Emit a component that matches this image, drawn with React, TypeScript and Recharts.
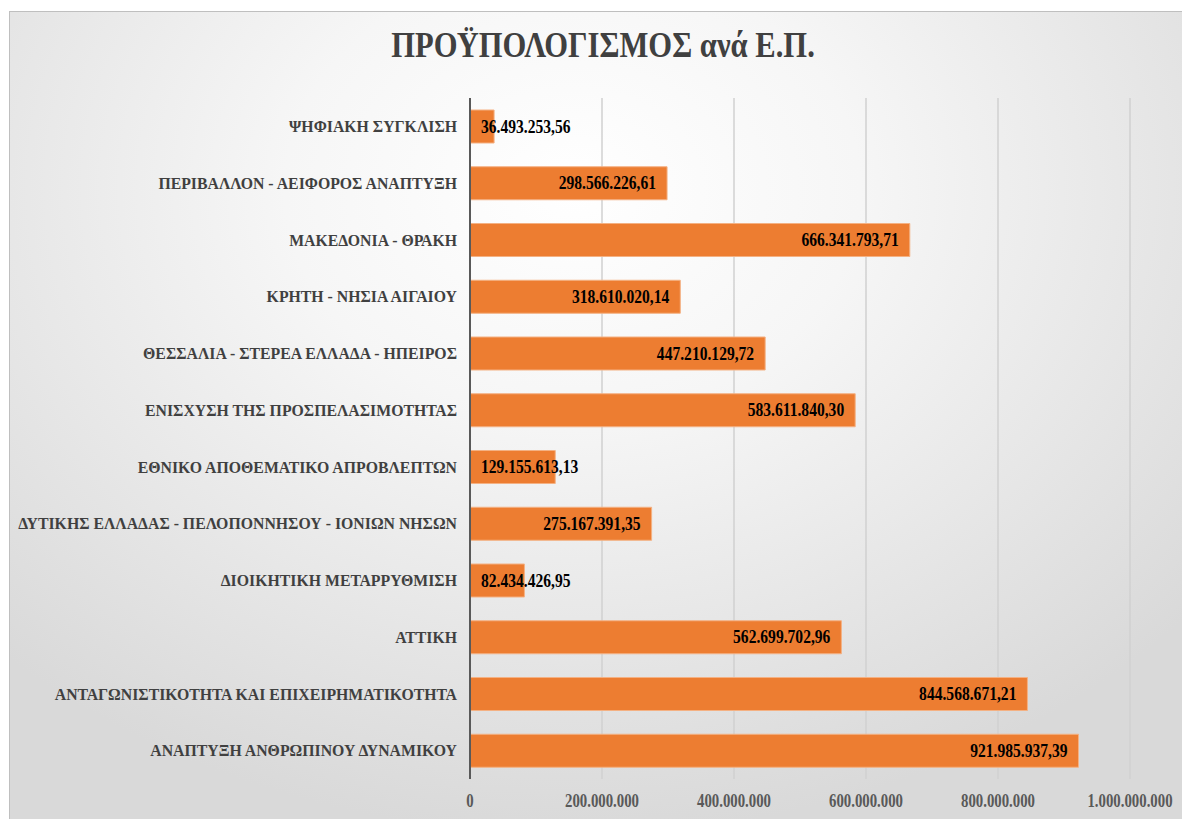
import { BarChart, Bar, XAxis, YAxis, CartesianGrid, LabelList } from 'recharts';

const programmes = [
  'ΨΗΦΙΑΚΗ ΣΥΓΚΛΙΣΗ',
  'ΠΕΡΙΒΑΛΛΟΝ - ΑΕΙΦΟΡΟΣ ΑΝΑΠΤΥΞΗ',
  'ΜΑΚΕΔΟΝΙΑ - ΘΡΑΚΗ',
  'ΚΡΗΤΗ - ΝΗΣΙΑ ΑΙΓΑΙΟΥ',
  'ΘΕΣΣΑΛΙΑ - ΣΤΕΡΕΑ ΕΛΛΑΔΑ - ΗΠΕΙΡΟΣ',
  'ΕΝΙΣΧΥΣΗ ΤΗΣ ΠΡΟΣΠΕΛΑΣΙΜΟΤΗΤΑΣ',
  'ΕΘΝΙΚΟ ΑΠΟΘΕΜΑΤΙΚΟ ΑΠΡΟΒΛΕΠΤΩΝ',
  'ΔΥΤΙΚΗΣ ΕΛΛΑΔΑΣ - ΠΕΛΟΠΟΝΝΗΣΟΥ - ΙΟΝΙΩΝ ΝΗΣΩΝ',
  'ΔΙΟΙΚΗΤΙΚΗ ΜΕΤΑΡΡΥΘΜΙΣΗ',
  'ΑΤΤΙΚΗ',
  'ΑΝΤΑΓΩΝΙΣΤΙΚΟΤΗΤΑ ΚΑΙ ΕΠΙΧΕΙΡΗΜΑΤΙΚΟΤΗΤΑ',
  'ΑΝΑΠΤΥΞΗ ΑΝΘΡΩΠΙΝΟΥ ΔΥΝΑΜΙΚΟΥ',
];

const budget = [
  36493253.56, 298566226.61, 666341793.71, 318610020.14, 447210129.72, 583611840.3,
  129155613.13, 275167391.35, 82434426.95, 562699702.96, 844568671.21, 921985937.39,
];

const xTicks = [0, 200000000, 400000000, 600000000, 800000000, 1000000000];

const data = programmes.map((name, i) => ({ name, value: budget[i] }));

const FONT = '"Liberation Serif", "Times New Roman", serif';

// greek style number: 1.234.567,89
const fmt = (v: number, decimals: number) => {
  const [int, dec] = v.toFixed(decimals).split('.');
  const grouped = int.replace(/\B(?=(\d{3})+(?!\d))/g, '.');
  return dec ? `${grouped},${dec}` : grouped;
};

const LABEL_SIZE = 19;
const LABEL_SCALE = 0.82;

const textWidth = (s: string) => {
  let em = 0;
  for (const c of s) em += c === '.' || c === ',' ? 0.25 : 0.5;
  return em * LABEL_SIZE * LABEL_SCALE;
};

const BarValue = (props: any) => {
  const { x, y, width, height, value } = props;
  const txt = fmt(value, 2);
  const w = textWidth(txt);
  const fits = width > w + 22;
  const tx = fits ? x + width - 11 : x + 11;
  return (
    <text
      transform={`translate(${tx},${y + height / 2}) scale(${LABEL_SCALE},1)`}
      textAnchor={fits ? 'end' : 'start'}
      dominantBaseline="central"
      fontFamily={FONT}
      fontWeight="bold"
      fontSize={LABEL_SIZE}
      fill="#000"
    >
      {txt}
    </text>
  );
};

const CategoryTick = ({ x, y, payload }: any) => (
  <text
    transform={`translate(${x},${y}) scale(0.93,1)`}
    textAnchor="end"
    dominantBaseline="central"
    fontFamily={FONT}
    fontWeight="bold"
    fontSize={17}
    fill="#404040"
  >
    {payload.value}
  </text>
);

const ValueTick = ({ x, y, payload }: any) => (
  <text
    transform={`translate(${x},${y + 22}) scale(0.78,1)`}
    textAnchor="middle"
    dominantBaseline="central"
    fontFamily={FONT}
    fontWeight="bold"
    fontSize={19}
    fill="#595959"
  >
    {fmt(payload.value, 0)}
  </text>
);

export default function App() {
  return (
    <div
      style={{
        position: 'absolute',
        left: 9,
        top: 11,
        width: 1172,
        height: 807,
        borderTop: '1px solid #bfbfbf',
        borderLeft: '1px solid #bfbfbf',
        background:
          'radial-gradient(ellipse 70% 80% at 48% 22%, #ffffff 0%, #f6f6f6 35%, #d9d9d9 100%)',
        overflow: 'hidden',
      }}
    >
      <div
        style={{
          position: 'absolute',
          left: 0,
          top: 13,
          width: 1186,
          textAlign: 'center',
          fontFamily: FONT,
          fontWeight: 'bold',
          fontSize: 36,
          lineHeight: '40px',
          color: '#404040',
          transform: 'scaleX(0.85)',
          transformOrigin: '593px 0',
        }}
      >
        ΠΡΟΫΠΟΛΟΓΙΣΜΟΣ ανά Ε.Π.
      </div>
      <BarChart
        width={1172}
        height={807}
        data={data}
        layout="vertical"
        margin={{ top: 86, right: 52, bottom: 0, left: 0 }}
        barSize={33}
      >
        <CartesianGrid horizontal={false} stroke="#d0d0d0" strokeWidth={1.5} />
        <XAxis
          type="number"
          domain={[0, 1000000000]}
          ticks={xTicks}
          axisLine={false}
          tickLine={false}
          tickSize={0}
          tickMargin={0}
          height={40}
          interval={0}
          tick={<ValueTick />}
        />
        <YAxis
          type="category"
          dataKey="name"
          width={460}
          axisLine={{ stroke: '#595959', strokeWidth: 2 }}
          tickLine={false}
          tickSize={0}
          tickMargin={13}
          interval={0}
          tick={<CategoryTick />}
        />
        <Bar dataKey="value" fill="#ED7D31" stroke="#F4B183" strokeWidth={1} isAnimationActive={false}>
          <LabelList dataKey="value" content={<BarValue />} />
        </Bar>
      </BarChart>
    </div>
  );
}
